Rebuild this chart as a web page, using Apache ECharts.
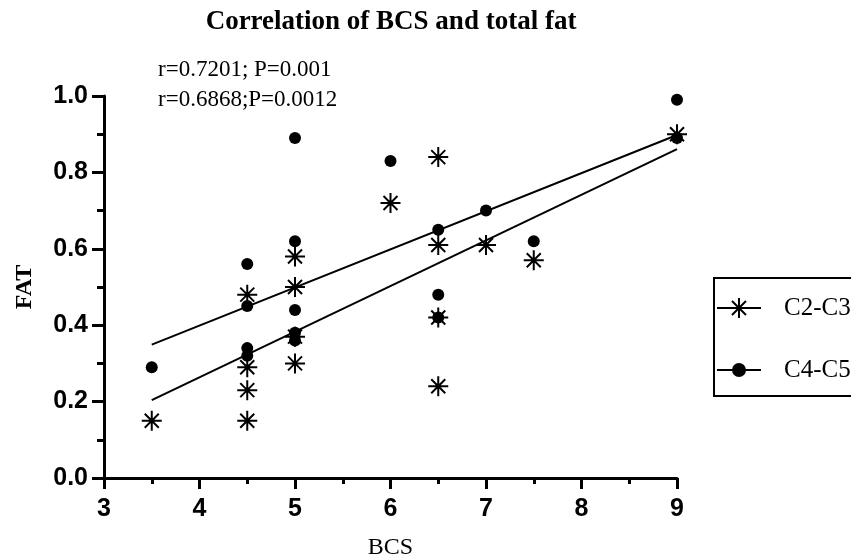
<!DOCTYPE html>
<html>
<head>
<meta charset="utf-8">
<script src="https://cdn.jsdelivr.net/npm/echarts@6/dist/echarts.min.js"></script>
<style>
html,body{margin:0;padding:0;background:#fff;}
#chart{width:851px;height:558px;}
</style>
</head>
<body>
<div id="chart"></div>
<script>
// Data
const bcsC23 = [3.5, 4.5, 4.5, 4.5, 4.5, 5, 5, 5, 5, 6, 6.5, 6.5, 6.5, 6.5, 7, 7.5, 9];
const fatC23 = [0.15, 0.48, 0.29, 0.23, 0.15, 0.58, 0.50, 0.37, 0.30, 0.72, 0.84, 0.61, 0.42, 0.24, 0.61, 0.57, 0.90];
const bcsC45 = [3.5, 4.5, 4.5, 4.5, 4.5, 5, 5, 5, 5, 5, 6, 6.5, 6.5, 6.5, 7, 7.5, 9, 9];
const fatC45 = [0.29, 0.56, 0.45, 0.34, 0.32, 0.89, 0.62, 0.44, 0.38, 0.36, 0.83, 0.65, 0.48, 0.42, 0.70, 0.62, 0.99, 0.89];
// fitted lines (endpoints)
const fitX = [3.5, 9];
const fitUpper = [0.349, 0.898];
const fitLower = [0.204, 0.861];
const seriesNames = ['C2-C3', 'C4-C5'];
const annotations = ['r=0.7201; P=0.001', 'r=0.6868;P=0.0012'];
const titleText = 'Correlation of BCS and total fat';
const xName = 'BCS';
const yName = 'FAT';

const zip = (xs, ys) => xs.map((x, i) => [x, ys[i]]);
const serif = 'Liberation Serif, Times New Roman, serif';
const sans = 'Liberation Sans, Arial, sans-serif';
const asterisk = 'path://M10 0V20M0 10H20M3 3L17 17M3 17L17 3';
const legendAst = 'path://M0 10H44M22 0V20M15 3L29 17M15 17L29 3';
const legendDot = 'path://M0 10H44M28 10A6 6 0 1 1 16 10A6 6 0 1 1 28 10Z';

const chart = echarts.init(document.getElementById('chart'));
chart.setOption({
  animation: false,
  backgroundColor: '#fff',
  title: [
    { text: titleText, left: 391, top: 8, textAlign: 'center', padding: 0,
      textStyle: { fontFamily: serif, fontWeight: 'bold', fontSize: 27, lineHeight: 28, color: '#000' } },
    { text: annotations[0], left: 158, top: 58, padding: 0,
      textStyle: { fontFamily: serif, fontWeight: 'normal', fontSize: 23, lineHeight: 24, color: '#000' } },
    { text: annotations[1], left: 158, top: 88, padding: 0,
      textStyle: { fontFamily: serif, fontWeight: 'normal', fontSize: 23, lineHeight: 24, color: '#000' } }
  ],
  grid: { left: 104, right: 174, top: 96, bottom: 80, containLabel: false, outerBoundsMode: 'none' },
  legend: {
    orient: 'vertical', left: 714, top: 278,
    padding: [15, 12, 11, 2], itemGap: 32,
    itemWidth: 44, itemHeight: 20,
    borderColor: '#000', borderWidth: 2,
    textStyle: { fontFamily: serif, fontSize: 25, lineHeight: 30, color: '#000', padding: [0, 0, 0, 18] },
    data: [
      { name: seriesNames[0], icon: legendAst, itemStyle: { color: '#000', borderColor: '#000', borderWidth: 2 } },
      { name: seriesNames[1], icon: legendDot, itemStyle: { color: '#000', borderColor: '#000', borderWidth: 2 } }
    ]
  },
  xAxis: {
    type: 'value', min: 3, max: 9, interval: 1,
    name: xName, nameLocation: 'middle', nameGap: 58,
    nameTextStyle: { fontFamily: serif, fontSize: 24, color: '#000' },
    axisLine: { show: true, onZero: false, lineStyle: { color: '#000', width: 3 } },
    axisTick: { show: true, length: 11, lineStyle: { color: '#000', width: 3 } },
    minorTick: { show: true, splitNumber: 2, length: 6, lineStyle: { color: '#000', width: 3 } },
    splitLine: { show: false },
    axisLabel: { fontFamily: sans, fontWeight: 'bold', fontSize: 25, color: '#000', margin: 19 }
  },
  yAxis: {
    type: 'value', min: 0, max: 1, interval: 0.2,
    name: yName, nameLocation: 'middle', nameGap: 67,
    nameTextStyle: { fontFamily: serif, fontWeight: 'bold', fontSize: 24, color: '#000' },
    axisLine: { show: true, onZero: false, lineStyle: { color: '#000', width: 3 } },
    axisTick: { show: true, length: 12, lineStyle: { color: '#000', width: 3 } },
    minorTick: { show: true, splitNumber: 2, length: 7, lineStyle: { color: '#000', width: 3 } },
    splitLine: { show: false },
    axisLabel: { fontFamily: sans, fontWeight: 'bold', fontSize: 25, color: '#000', margin: 16,
      formatter: v => v.toFixed(1) }
  },
  series: [
    { name: 'fitUpper', type: 'line', data: zip(fitX, fitUpper), symbol: 'none',
      lineStyle: { color: '#000', width: 2 }, silent: true, z: 1 },
    { name: 'fitLower', type: 'line', data: zip(fitX, fitLower), symbol: 'none',
      lineStyle: { color: '#000', width: 2 }, silent: true, z: 1 },
    { name: seriesNames[0], type: 'scatter', data: zip(bcsC23, fatC23),
      symbol: asterisk, symbolSize: 20,
      itemStyle: { color: '#000', borderColor: '#000', borderWidth: 2, opacity: 1 }, z: 3 },
    { name: seriesNames[1], type: 'scatter', data: zip(bcsC45, fatC45),
      symbol: 'circle', symbolSize: 12,
      itemStyle: { color: '#000', opacity: 1 }, z: 3 }
  ]
});
</script>
</body>
</html>
